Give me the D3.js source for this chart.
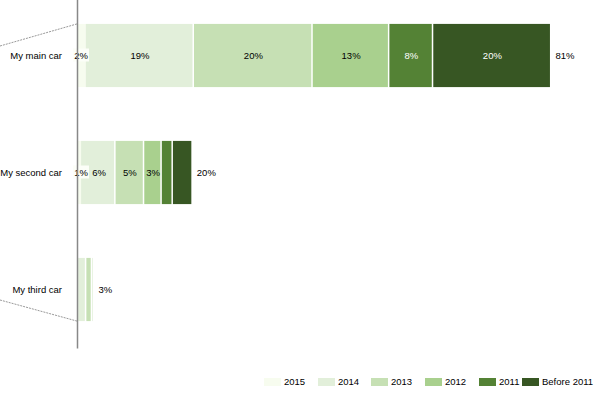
<!DOCTYPE html>
<html>
<head>
<meta charset="utf-8">
<script src="https://cdn.jsdelivr.net/npm/d3@7"></script>
<style>body{margin:0;background:#fff}text{font-family:"Liberation Sans",sans-serif;font-size:9.5px}</style>
</head>
<body>
<div id="chart"></div>
<script>
var categories = ["My main car", "My second car", "My third car"];
var years = ["2015", "2014", "2013", "2012", "2011", "Before 2011"];
var colors = ["#f7fcef", "#e2efda", "#c6e0b4", "#a9d08e", "#548235", "#375623"];
var v2015 = [1.5, 0.7, 0.2];
var v2014 = [18.5, 5.9, 1.4];
var v2013 = [20.3, 4.9, 1];
var v2012 = [13.1, 3, 0.3];
var v2011 = [7.5, 1.9, 0.1];
var vBefore = [20.2, 3.4, 0];
var totals = ["81%", "20%", "3%"];
var segLabels = [["2%", "19%", "20%", "13%", "8%", "20%"], ["1%", "6%", "5%", "3%", "", ""], ["", "", "", "", "", ""]];

var W = 602, H = 400;
var svg = d3.select("#chart").append("svg").attr("width", W).attr("height", H);
var x = d3.scaleLinear().domain([0, 89.4]).range([77, 600]);
var y = d3.scaleBand().domain(categories).range([-3, 348]).paddingInner(0.46).paddingOuter(0.23);

var series = [v2015, v2014, v2013, v2012, v2011, vBefore];
var data = categories.map(function(c, i) {
  var o = {cat: c};
  years.forEach(function(yr, j) { o[yr] = series[j][i]; });
  return o;
});
var stack = d3.stack().keys(years)(data);

// breakout dashed lines
svg.append("line").attr("x1", 0).attr("y1", 46).attr("x2", 77).attr("y2", y(categories[0]))
  .attr("stroke", "#999").attr("stroke-dasharray", "2,1");
svg.append("line").attr("x1", 0).attr("y1", 300).attr("x2", 77).attr("y2", y(categories[2]) + y.bandwidth())
  .attr("stroke", "#999").attr("stroke-dasharray", "2,1");

stack.forEach(function(s, j) {
  var g = svg.append("g");
  g.selectAll("rect").data(s).enter().append("rect")
    .attr("x", function(d) { return x(d[0]); })
    .attr("y", function(d) { return y(d.data.cat); })
    .attr("width", function(d) { return Math.max(0, x(d[1]) - x(d[0]) - (j > 0 ? 1.5 : 0)); })
    .attr("height", y.bandwidth())
    .attr("fill", colors[j]);
});

// segment labels
stack.forEach(function(s, j) {
  s.forEach(function(d, i) {
    var t = segLabels[i][j];
    if (!t) return;
    var cx = (x(d[0]) + x(d[1])) / 2, cy = y(d.data.cat) + y.bandwidth() / 2;
    if (j === 0) {
      cx = x(d[0]) + 4;
      svg.append("rect").attr("x", cx - 8).attr("y", cy - 7).attr("width", 16).attr("height", 13).attr("fill", "#fcfef8");
    }
    if (i === 1 && j === 1) cx = x(d[0]) + 18;
    svg.append("text").attr("x", cx).attr("y", cy).attr("dy", "0.35em").attr("text-anchor", "middle")
      .attr("fill", j >= 4 ? "#fff" : "#000").text(t);
  });
});

// totals
data.forEach(function(d, i) {
  var end = stack[stack.length - 1][i][1];
  svg.append("text").attr("x", x(end) + 4).attr("y", y(d.cat) + y.bandwidth() / 2).attr("dy", "0.35em").text(totals[i]);
});

// axis
var ax = svg.append("g").attr("transform", "translate(77,0)").call(d3.axisLeft(y).tickSize(0).tickPadding(15));
ax.select(".domain").attr("stroke", "#888").attr("stroke-width", 1.5);
ax.selectAll("text").style("font-size", "9.5px").style("font-family", "'Liberation Sans',sans-serif");

// legend
var lx = [264, 318, 371, 425, 479, 522];
years.forEach(function(yr, j) {
  svg.append("rect").attr("x", lx[j]).attr("y", 378).attr("width", 17).attr("height", 8).attr("fill", colors[j]);
  svg.append("text").attr("x", lx[j] + 20).attr("y", 382).attr("dy", "0.35em").text(yr);
});
</script>
</body>
</html>
